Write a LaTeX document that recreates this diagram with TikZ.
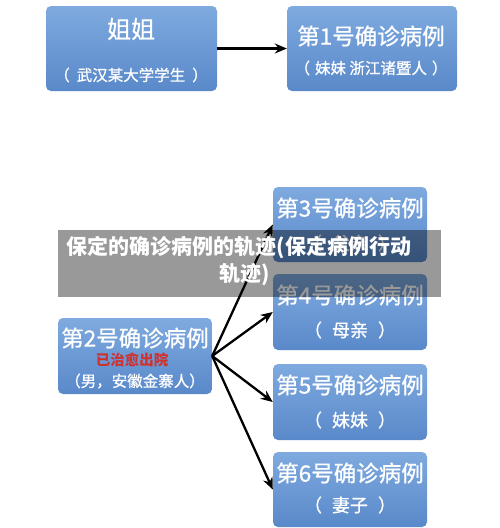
\documentclass[tikz,border=0pt]{standalone}
\usepackage{fontspec}
\setmainfont{Noto Sans CJK SC}
\usetikzlibrary{arrows.meta}
\definecolor{boxtop}{HTML}{7EAADF}
\definecolor{boxbot}{HTML}{5A89CA}
\definecolor{curedred}{HTML}{D0312D}
\newcommand{\pl}[2]{（\hspace{#1}#2\hspace{#1}）}
\begin{document}
\begin{tikzpicture}[x=1pt,y=1pt,
  box/.style={rounded corners=5pt, top color=boxtop, bottom color=boxbot, draw=none, inner sep=0pt},
  ttl/.style={text=white, inner sep=0pt, font=\fontsize{22.5}{22.5}\selectfont\addfontfeature{FakeBold=0.8}},
  sub/.style={text=white, inner sep=0pt, font=\fontsize{15.5}{15.5}\selectfont\addfontfeature{FakeBold=0.8}},
  big/.style={text=white, inner sep=0pt, font=\fontsize{18}{18}\selectfont\addfontfeature{FakeBold=0.8}},
  arr/.style={-{Stealth[length=12pt,width=10pt]}, line width=2.3pt, black},
  ovl/.style={text=white, inner sep=0pt, font=\fontsize{21}{21}\selectfont\bfseries}]
\useasboundingbox[fill=white] (0,0) rectangle (500,-528);
% boxes
\node[box, minimum width=171pt, minimum height=85pt] (b0) at (131.5,-48.5) {};
\node[box, minimum width=170pt, minimum height=85pt] (b1) at (372,-48.5) {};
\node[box, minimum width=154pt, minimum height=76pt] (b2) at (135,-356) {};
\node[box, minimum width=154pt, minimum height=75pt] (b3) at (350,-224.5) {};
\node[box, minimum width=154pt, minimum height=76pt] (b4) at (350,-312) {};
\node[box, minimum width=154pt, minimum height=76pt] (b5) at (350,-402) {};
\node[box, minimum width=154pt, minimum height=75pt] (b6) at (350,-489.5) {};
% texts
\node[ttl, font=\fontsize{24}{24}\selectfont\addfontfeature{FakeBold=0.8}] (t0a) at (131,-29) {姐姐};
\node[sub] (t0b) at (131,-75) {\pl{7pt}{武汉某大学学生}};
\node[ttl] (t1a) at (371,-36) {第1号确诊病例};
\node[sub] (t1b) at (371,-68) {\pl{5pt}{妹妹 浙江诸暨人}};
\node[ttl] (t2a) at (135,-338) {第2号确诊病例};
\node[text=curedred, inner sep=0pt, font=\fontsize{14.5}{14.5}\selectfont\bfseries] (t2b) at (132,-360) {已治愈出院};
\node[sub] (t2c) at (135,-381) {（男，安徽金寨人）};
\node[ttl] (t3a) at (350,-208) {第3号确诊病例};
\node[big] (t3b) at (350,-243) {\pl{10pt}{父亲}};
\node[ttl] (t4a) at (350,-295) {第4号确诊病例};
\node[big] (t4b) at (350,-330) {\pl{10pt}{母亲}};
\node[ttl] (t5a) at (350,-385) {第5号确诊病例};
\node[big] (t5b) at (350,-420) {\pl{10pt}{妹妹}};
\node[ttl] (t6a) at (350,-473) {第6号确诊病例};
\node[big] (t6b) at (350,-505) {\pl{10pt}{妻子}};
% arrows
\draw[arr] (b0.east) -- (b1.west);
\draw[arr] (b2.east) -- (b3.west);
\draw[arr] (b2.east) -- (b4.west);
\draw[arr] (b2.east) -- (b5.west);
\draw[arr] (b2.east) -- (b6.west);
% overlay
\node[fill=black, fill opacity=0.4, draw=none, inner sep=0pt, minimum width=383pt, minimum height=67pt] (ov) at (249.5,-263.5) {};
\node[ovl] (ova) at (239,-248) {保定的确诊病例的轨迹(保定病例行动};
\node[ovl] (ovb) at (245,-275) {轨迹)};
\end{tikzpicture}
\end{document}
